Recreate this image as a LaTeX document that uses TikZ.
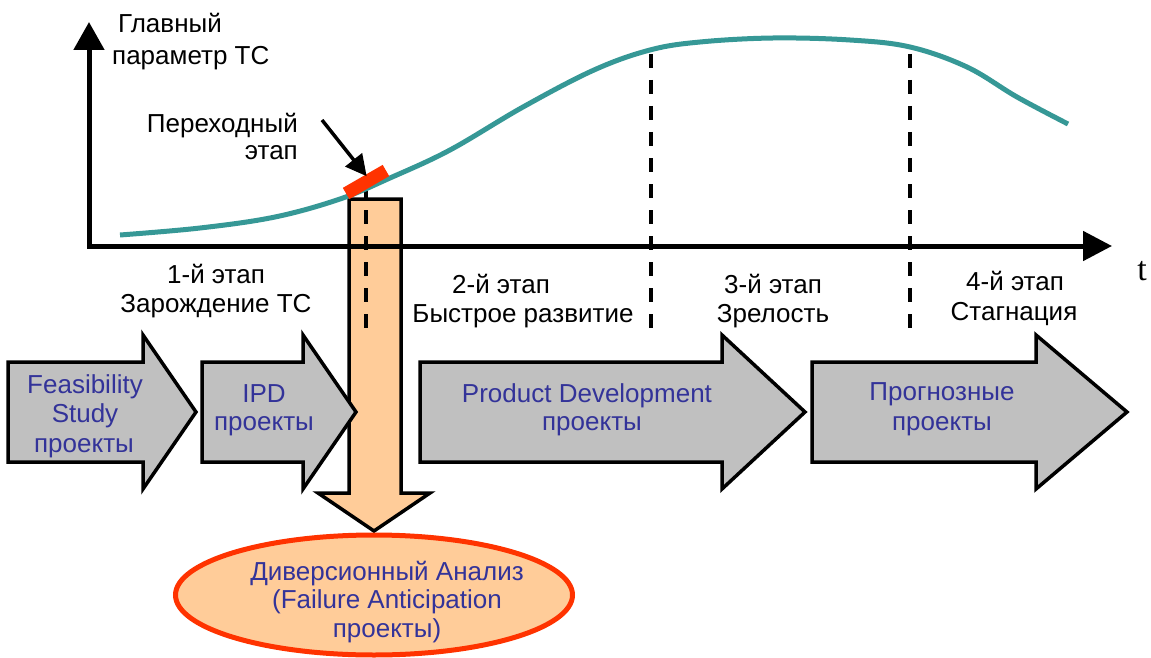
\documentclass[tikz,border=0pt]{standalone}
\usepackage{fontspec}
\setmainfont{Liberation Sans}
\newfontfamily\timesfont{Liberation Serif}
\usetikzlibrary{arrows.meta,shapes.geometric}
\definecolor{curveteal}{RGB}{54,152,150}
\definecolor{barred}{RGB}{255,51,0}
\definecolor{peach}{RGB}{255,204,153}
\definecolor{boxgray}{RGB}{192,192,192}
\definecolor{txtblue}{RGB}{51,51,153}
\begin{document}
\begin{tikzpicture}[x=1pt,y=-1pt,
  lbl/.style={anchor=base, inner sep=0pt, font=\fontsize{26}{30}\selectfont},
  blbl/.style={lbl, text=txtblue},
  axisline/.style={line width=5pt, line join=miter, draw=black},
  stagedash/.style={line width=3.5pt, dash pattern=on 14pt off 12pt},
  curveline/.style={line width=5pt, draw=curveteal},
  blockarrow/.style={draw=black, fill=boxgray, line width=3.5pt, line join=miter},
  downarrow/.style={draw=black, fill=peach, line width=3.5pt, line join=miter},
  oval/.style={ellipse, draw=barred, fill=peach, line width=5pt,
               minimum width=397pt, minimum height=120pt, inner sep=0pt},
  redbar/.style={fill=barred, minimum width=46pt, minimum height=13pt, inner sep=0pt},
  pointer/.style={line width=3.5pt, -{Triangle[length=21pt,width=21pt]}}]

\useasboundingbox (0,0) rectangle (1151,658);

% downward arrow towards the diversion analysis
\draw[downarrow] (349,199) -- (401,199) -- (401,493) -- (430,493) -- (374,531)
  -- (318,493) -- (349,493) -- cycle;

% project block arrows
\draw[blockarrow] (8,362) -- (143,362) -- (143,335) -- (196,412) -- (143,489)
  -- (143,462) -- (8,462) -- cycle;
\draw[blockarrow] (202,362) -- (303,362) -- (303,335) -- (356,412) -- (303,489)
  -- (303,462) -- (202,462) -- cycle;
\draw[blockarrow] (420,362) -- (722,362) -- (722,335) -- (805,412) -- (722,489)
  -- (722,462) -- (420,462) -- cycle;
\draw[blockarrow] (812,362) -- (1036,362) -- (1036,335) -- (1127,412) -- (1036,489)
  -- (1036,462) -- (812,462) -- cycle;

% diversion analysis oval
\node[oval] (div) at (374,595) {};

% stage borders
\coordinate (b1top) at (366,184); \coordinate (b1bot) at (366,330);
\coordinate (b2top) at (651,54);  \coordinate (b2bot) at (651,330);
\coordinate (b3top) at (910,54);  \coordinate (b3bot) at (910,330);
\draw[stagedash] (b1top) -- (b1bot);
\draw[stagedash] (b2top) -- (b2bot);
\draw[stagedash] (b3top) -- (b3bot);

% axes
\coordinate (O) at (89,246);
\coordinate (ytip) at (89,22);
\coordinate (xtip) at (1112,246);
\draw[axisline, {Triangle[length=28pt,width=30pt]}-{Triangle[length=29pt,width=29pt]}]
  (ytip) -- (O) -- (xtip);

% S-curve of the main parameter
\draw[curveline] plot[smooth, tension=0.6] coordinates {
  (120,235) (200,228) (275,217) (340,199) (390,178)
  (450,150) (523,107) (594,70) (650,50) (700,42) (773,38) (850,40)
  (910,47) (967,67) (1017,97) (1068,124)};

% transition mark and its pointer
\node[redbar, rotate=30] (bar) at (366,182) {};
\coordinate (ptr) at (322,120);
\draw[pointer] (ptr) -- ([xshift=4pt]bar.north);

% axis labels
\node[lbl, anchor=base west] (ylab1) at (118,33) {Главный};
\node[lbl, anchor=base west] (ylab2) at (112,65) {параметр ТС};
\node[lbl, anchor=base, font=\timesfont\fontsize{34}{40}\selectfont] (tlab) at (1142,280) {t};

\node[lbl, anchor=base east] (tr1) at (298,132) {Переходный};
\node[lbl, anchor=base east] (tr2) at (298,160) {этап};

% stage labels
\node[lbl] (s1a) at (216,283) {1-й этап};
\node[lbl] (s1b) at (216,312) {Зарождение ТС};
\node[lbl] (s2a) at (501,293) {2-й этап};
\node[lbl] (s2b) at (523,322) {Быстрое развитие};
\node[lbl] (s3a) at (773,293) {3-й этап};
\node[lbl] (s3b) at (773,322) {Зрелость};
\node[lbl] (s4a) at (1015,290) {4-й этап};
\node[lbl] (s4b) at (1014,320) {Стагнация};

% project labels
\node[blbl] (fs1) at (85,393) {Feasibility};
\node[blbl] (fs2) at (85,422) {Study};
\node[blbl] (fs3) at (84,452) {проекты};
\node[blbl] (ipd1) at (264,402) {IPD};
\node[blbl] (ipd2) at (264,430) {проекты};
\node[blbl] (pd1) at (587,402) {Product Development};
\node[blbl] (pd2) at (592,430) {проекты};
\node[blbl] (pr1) at (942,400) {Прогнозные};
\node[blbl] (pr2) at (942,430) {проекты};
\node[blbl] (da1) at (387,580) {Диверсионный Анализ};
\node[blbl] (da2) at (387,608) {(Failure Anticipation};
\node[blbl] (da3) at (387,637) {проекты)};
\end{tikzpicture}
\end{document}
